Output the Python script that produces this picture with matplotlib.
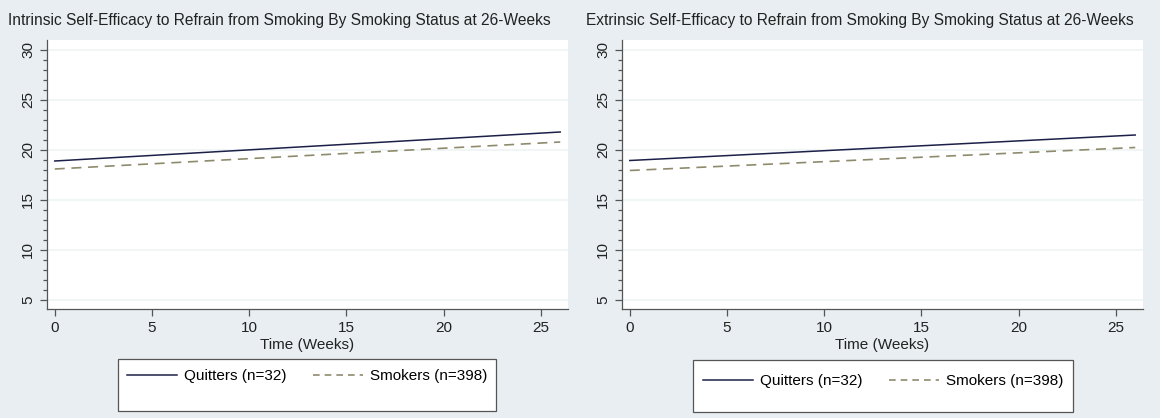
import matplotlib.pyplot as plt
from matplotlib.patches import Rectangle
from matplotlib.lines import Line2D

plt.rcParams['font.family'] = ['Liberation Sans', 'DejaVu Sans']

# fitted trajectories, weeks 0 to 26
weeks = [0, 26]
intrinsic_quitters = [18.9, 21.8]
intrinsic_smokers = [18.1, 20.8]
extrinsic_quitters = [18.95, 21.5]
extrinsic_smokers = [17.95, 20.25]

titles = ["Intrinsic Self-Efficacy to Refrain from Smoking By Smoking Status at 26-Weeks",
          "Extrinsic Self-Efficacy to Refrain from Smoking By Smoking Status at 26-Weeks"]
labels = ["Quitters (n=32)", "Smokers (n=398)"]
x_ticks = [0, 5, 10, 15, 20, 25]
y_ticks = [5, 10, 15, 20, 25, 30]

bg = '#e8eef1'
navy = '#1c2048'
olive = '#8e8b6c'
axis_col = '#555555'

fig = plt.figure(figsize=(11.6, 4.18), dpi=100, facecolor=bg)

W, H = 1160, 418
panels = [
    dict(left=47, title_x=8, quit=intrinsic_quitters, smoke=intrinsic_smokers,
         box=(118, 359, 496, 411), entry_y=376),
    dict(left=622, title_x=586, quit=extrinsic_quitters, smoke=extrinsic_smokers,
         box=(693, 360, 1073, 412), entry_y=381),
]

for p, title in zip(panels, titles):
    ax = fig.add_axes([p['left'] / W, (H - 309) / H, 521 / W, 269 / H])
    ax.set_facecolor('white')
    ax.plot(weeks, p['quit'], color=navy, lw=1.1, zorder=3)
    ax.plot(weeks, p['smoke'], color=olive, lw=1.2, ls=(0, (6, 4)), zorder=3)
    ax.set_xlim(-0.4, 26.4)
    ax.set_ylim(4.1, 31)
    ax.set_xticks(x_ticks)
    ax.set_yticks(y_ticks)
    ax.set_yticks(range(5, 31), minor=True)
    for y in y_ticks:
        ax.axhline(y, color='#eef3f5', lw=1.2, zorder=1)
    for s in ['top', 'right']:
        ax.spines[s].set_visible(False)
    for s in ['left', 'bottom']:
        ax.spines[s].set_color(axis_col)
        ax.spines[s].set_linewidth(0.9)
    ax.tick_params(axis='both', colors=axis_col, labelcolor='#222222',
                   labelsize=11, length=5, width=0.9)
    ax.tick_params(axis='y', which='minor', colors=axis_col, length=3, width=0.9)
    for lab in ax.get_yticklabels():
        lab.set_rotation(90)
        lab.set_va('center')
    ax.set_xlabel("Time (Weeks)", fontsize=11, color='#222222', labelpad=2)

    fig.text(p['title_x'] / W, 1 - 20 / H, title, fontsize=11.2,
             color='#222222', va='center', ha='left')

    # legend frame with entries in the upper part
    x0, y0, x1, y1 = p['box']
    fig.add_artist(Rectangle((x0 / W, 1 - y1 / H), (x1 - x0) / W, (y1 - y0) / H,
                             transform=fig.transFigure, facecolor='white',
                             edgecolor='#555555', lw=0.9))
    handles = [Line2D([], [], color=navy, lw=1.1),
               Line2D([], [], color=olive, lw=1.2, ls=(0, (4, 3)))]
    fig.legend(handles, labels, loc='center', ncol=2, frameon=False,
               bbox_to_anchor=((x0 + x1) / 2 / W, 1 - p['entry_y'] / H),
               fontsize=11, handlelength=3.3, columnspacing=1.7,
               handletextpad=0.45)

fig.savefig('out.png', dpi=100, facecolor=bg)
